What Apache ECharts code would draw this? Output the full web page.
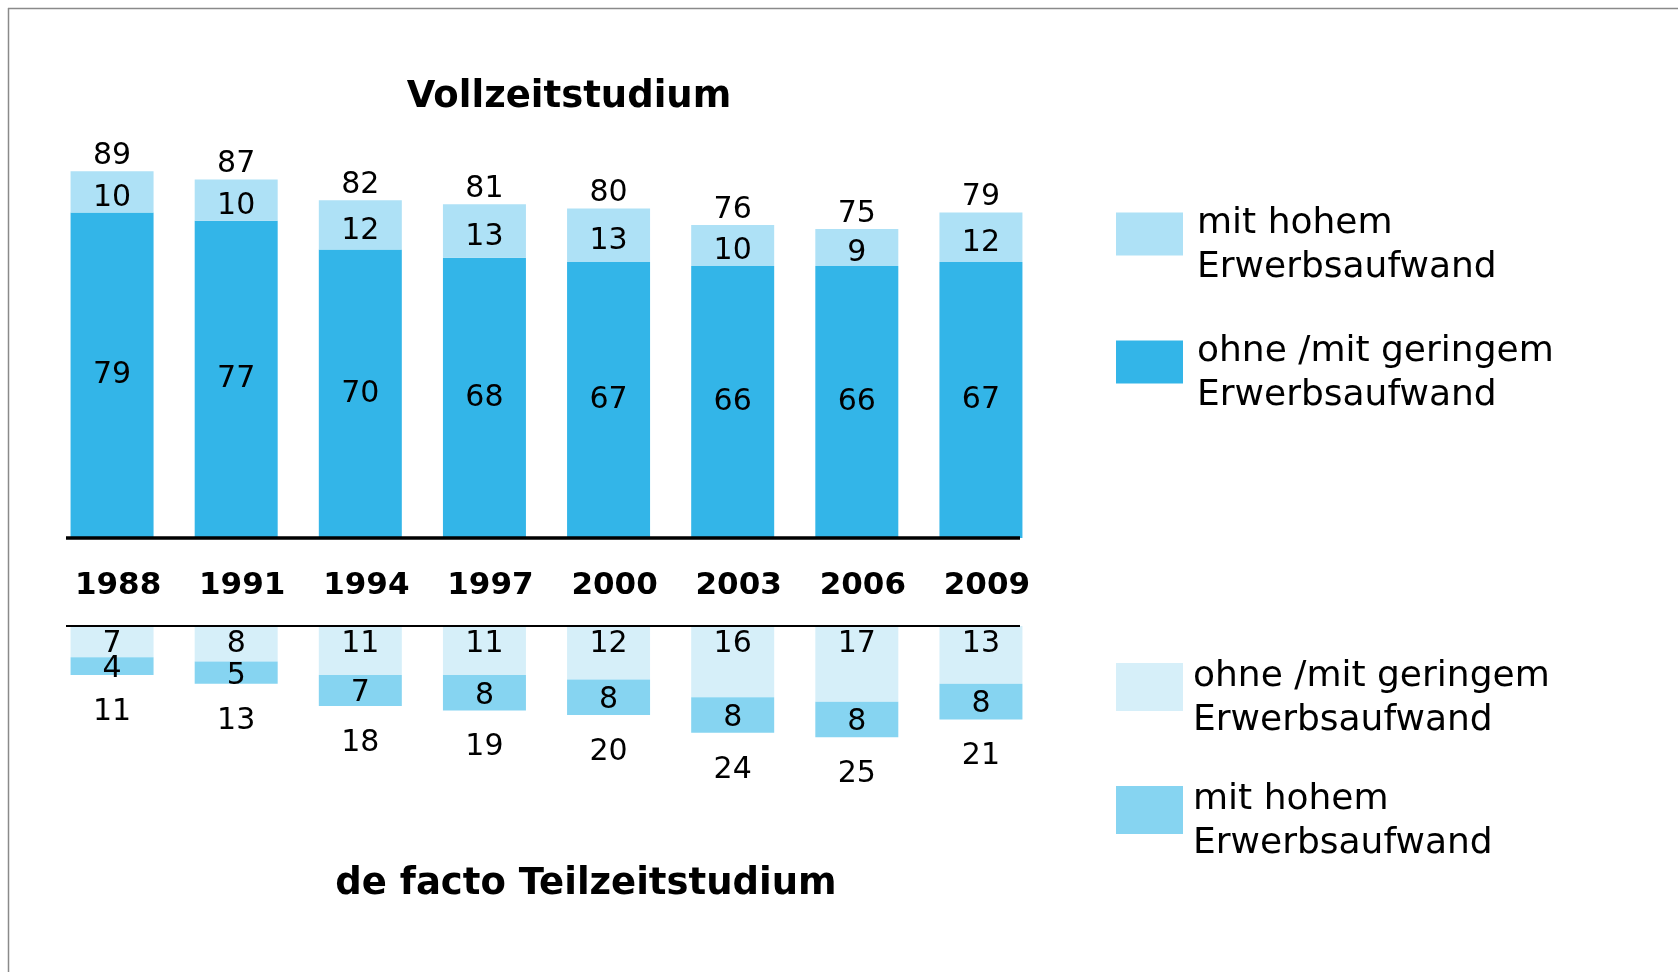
<!DOCTYPE html>
<html>
<head>
<meta charset="utf-8">
<script src="https://cdn.jsdelivr.net/npm/echarts@6/dist/echarts.min.js"></script>
<style>
  html, body { margin: 0; padding: 0; background: #fff; }
  #chart { width: 1678px; height: 972px; }
</style>
</head>
<body>
<div id="chart"></div>
<script>
const years = ['1988', '1991', '1994', '1997', '2000', '2003', '2006', '2009'];

// Vollzeitstudium
const fullLow = [79, 77, 70, 68, 67, 66, 66, 67];
const fullHigh = [10, 10, 12, 13, 13, 10, 9, 12];
const fullTotal = [89, 87, 82, 81, 80, 76, 75, 79];

// de facto Teilzeitstudium
const partLow = [7, 8, 11, 11, 12, 16, 17, 13];
const partHigh = [4, 5, 7, 8, 8, 8, 8, 8];
const partTotal = [11, 13, 18, 19, 20, 24, 25, 21];

const legendText = {
  fullHigh: 'mit hohem\nErwerbsaufwand',
  fullLow: 'ohne /mit geringem\nErwerbsaufwand',
  partLow: 'ohne /mit geringem\nErwerbsaufwand',
  partHigh: 'mit hohem\nErwerbsaufwand'
};

const FONT = '"DejaVu Sans", Verdana, sans-serif';
const zeros = years.map(() => 0);

const inLabel = { show: true, position: 'inside', color: '#000', fontSize: 30, fontFamily: FONT };

// small spacer line above the legend text so the swatch sits level with the first line
const legendStyle = (padLeft) => ({
  fontSize: 36, fontFamily: FONT, color: '#000', lineHeight: 44, padding: [0, 0, 0, padLeft],
  rich: { s: { fontSize: 1, lineHeight: 24 } }
});

const chart = echarts.init(document.getElementById('chart'));
chart.setOption({
  animation: false,
  backgroundColor: '#fff',
  graphic: [
    // frame
    { type: 'line', shape: { x1: 8, y1: 8.5, x2: 1678, y2: 8.5 }, style: { stroke: '#8a8a8a', lineWidth: 1.5 } },
    { type: 'line', shape: { x1: 8.5, y1: 8, x2: 8.5, y2: 972 }, style: { stroke: '#8a8a8a', lineWidth: 1.5 } },
    // base lines of the two panels
    { type: 'line', z: 10, shape: { x1: 66, y1: 538, x2: 1020, y2: 538 }, style: { stroke: '#000', lineWidth: 3.5 } },
    { type: 'line', z: 10, shape: { x1: 66, y1: 626, x2: 1020, y2: 626 }, style: { stroke: '#000', lineWidth: 2 } },
    {
      type: 'text', x: 569, y: 97,
      style: { text: 'Vollzeitstudium', align: 'center', verticalAlign: 'middle',
        font: 'bold 37px "DejaVu Sans", Verdana, sans-serif', fill: '#000' }
    },
    {
      type: 'text', x: 586, y: 884,
      style: { text: 'de facto Teilzeitstudium', align: 'center', verticalAlign: 'middle',
        font: 'bold 37px "DejaVu Sans", Verdana, sans-serif', fill: '#000' }
    }
  ],
  legend: [
    {
      orient: 'vertical', left: 1111, top: 173, itemGap: 16,
      itemWidth: 67, itemHeight: 43, icon: 'rect',
      data: ['fullHigh', 'fullLow'],
      formatter: n => '{s| }\n' + legendText[n],
      textStyle: legendStyle(9)
    },
    {
      orient: 'vertical', left: 1111, top: 626, itemGap: 11,
      itemWidth: 67, itemHeight: 48, icon: 'rect',
      data: ['partLow', 'partHigh'],
      formatter: n => '{s| }\n' + legendText[n],
      textStyle: legendStyle(5)
    }
  ],
  grid: [
    { left: 50, width: 993, top: 126, height: 412 },
    { left: 50, width: 993, top: 626, height: 267 }
  ],
  xAxis: [
    {
      type: 'category', gridIndex: 0, data: years,
      axisLine: { show: false },
      axisTick: { show: false },
      axisLabel: { color: '#000', fontSize: 31, fontWeight: 'bold', fontFamily: FONT, margin: 32, padding: [0, 0, 0, 12] }
    },
    {
      type: 'category', gridIndex: 1, data: years, position: 'top',
      axisLine: { show: false },
      axisTick: { show: false },
      axisLabel: { show: false }
    }
  ],
  yAxis: [
    { type: 'value', gridIndex: 0, min: 0, max: 100, show: false, splitLine: { show: false } },
    { type: 'value', gridIndex: 1, min: 0, max: 60, inverse: true, show: false, splitLine: { show: false } }
  ],
  series: [
    {
      name: 'fullLow', type: 'bar', stack: 'full', xAxisIndex: 0, yAxisIndex: 0,
      barWidth: 83, data: fullLow, itemStyle: { color: '#33B5E8' }, label: inLabel
    },
    {
      name: 'fullHigh', type: 'bar', stack: 'full', xAxisIndex: 0, yAxisIndex: 0,
      barWidth: 83, data: fullHigh, itemStyle: { color: '#AEE1F6' },
      label: Object.assign({}, inLabel, { offset: [0, 6] })
    },
    {
      name: 'fullSum', type: 'bar', stack: 'full', xAxisIndex: 0, yAxisIndex: 0,
      barWidth: 83, data: zeros, itemStyle: { color: 'transparent' },
      label: { show: true, position: 'top', distance: 0, color: '#000', fontSize: 30, fontFamily: FONT,
        formatter: p => fullTotal[p.dataIndex] }
    },
    {
      name: 'partLow', type: 'bar', stack: 'part', xAxisIndex: 1, yAxisIndex: 1,
      barWidth: 83, data: partLow, itemStyle: { color: '#D6EFF9' },
      label: Object.assign({}, inLabel, { position: 'insideTop', distance: 3 })
    },
    {
      name: 'partHigh', type: 'bar', stack: 'part', xAxisIndex: 1, yAxisIndex: 1,
      barWidth: 83, data: partHigh, itemStyle: { color: '#86D4F1' },
      label: Object.assign({}, inLabel, { offset: [0, 3] })
    },
    {
      name: 'partSum', type: 'bar', stack: 'part', xAxisIndex: 1, yAxisIndex: 1,
      barWidth: 83, data: zeros, itemStyle: { color: 'transparent' },
      label: { show: true, position: 'bottom', distance: 22, color: '#000', fontSize: 30, fontFamily: FONT,
        formatter: p => partTotal[p.dataIndex] }
    }
  ]
});
</script>
</body>
</html>
